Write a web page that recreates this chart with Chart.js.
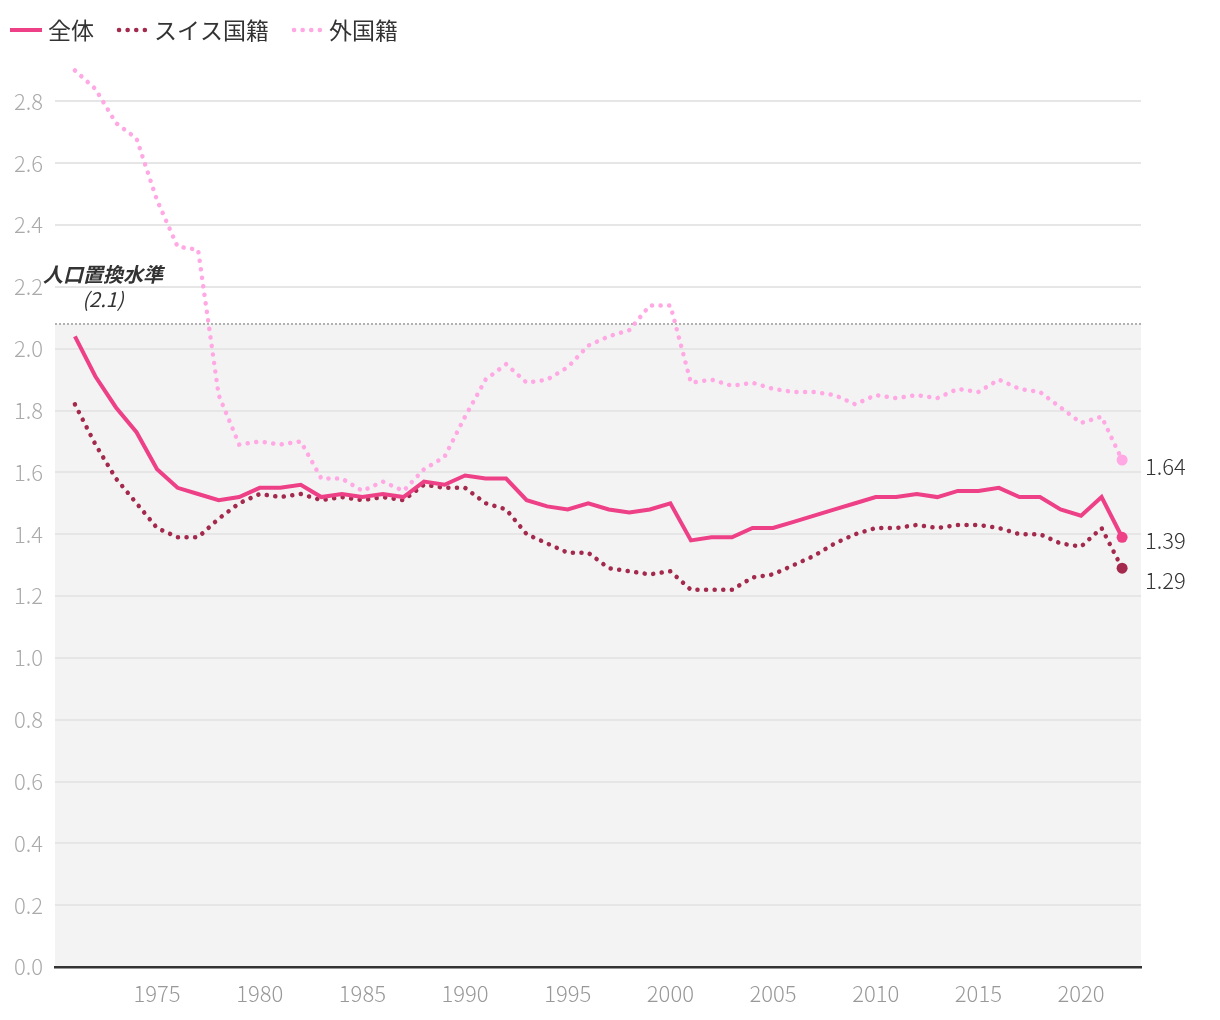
<!DOCTYPE html>
<html lang="ja">
<head>
<meta charset="utf-8">
<title>合計特殊出生率</title>
<script src="https://cdn.jsdelivr.net/npm/chart.js@4.4.1/dist/chart.umd.min.js"></script>
<style>
html, body { margin: 0; padding: 0; background: #fff; }
canvas { display: block; }
</style>
</head>
<body>
<canvas id="myChart" width="1220" height="1020"></canvas>
<script>
// years on the x axis
const years = [1971, 1972, 1973, 1974, 1975, 1976, 1977, 1978, 1979, 1980,
    1981, 1982, 1983, 1984, 1985, 1986, 1987, 1988, 1989, 1990,
    1991, 1992, 1993, 1994, 1995, 1996, 1997, 1998, 1999, 2000,
    2001, 2002, 2003, 2004, 2005, 2006, 2007, 2008, 2009, 2010,
    2011, 2012, 2013, 2014, 2015, 2016, 2017, 2018, 2019, 2020,
    2021, 2022];

// 全体
const totalRate = [2.04, 1.91, 1.81, 1.73, 1.61, 1.55, 1.53, 1.51, 1.52, 1.55,
    1.55, 1.56, 1.52, 1.53, 1.52, 1.53, 1.52, 1.57, 1.56, 1.59,
    1.58, 1.58, 1.51, 1.49, 1.48, 1.50, 1.48, 1.47, 1.48, 1.50,
    1.38, 1.39, 1.39, 1.42, 1.42, 1.44, 1.46, 1.48, 1.50, 1.52,
    1.52, 1.53, 1.52, 1.54, 1.54, 1.55, 1.52, 1.52, 1.48, 1.46,
    1.52, 1.39];

// スイス国籍
const swissRate = [1.82, 1.69, 1.58, 1.50, 1.42, 1.39, 1.39, 1.45, 1.50, 1.53,
    1.52, 1.53, 1.51, 1.52, 1.51, 1.52, 1.51, 1.56, 1.55, 1.55,
    1.50, 1.48, 1.40, 1.37, 1.34, 1.34, 1.29, 1.28, 1.27, 1.28,
    1.22, 1.22, 1.22, 1.26, 1.27, 1.30, 1.33, 1.37, 1.40, 1.42,
    1.42, 1.43, 1.42, 1.43, 1.43, 1.42, 1.40, 1.40, 1.37, 1.36,
    1.42, 1.29];

// 外国籍
const foreignRate = [2.90, 2.84, 2.73, 2.68, 2.48, 2.33, 2.32, 1.85, 1.69, 1.70,
    1.69, 1.70, 1.58, 1.58, 1.54, 1.57, 1.54, 1.61, 1.65, 1.78,
    1.90, 1.95, 1.89, 1.90, 1.94, 2.01, 2.04, 2.06, 2.14, 2.14,
    1.89, 1.90, 1.88, 1.89, 1.87, 1.86, 1.86, 1.85, 1.82, 1.85,
    1.84, 1.85, 1.84, 1.87, 1.86, 1.90, 1.87, 1.86, 1.81, 1.76,
    1.78, 1.64];

const seriesNames = ['全体', 'スイス国籍', '外国籍'];
const endLabels = ['1.39', '1.29', '1.64'];

const replacementLevel = 2.08;
const replacementText = ['人口置換水準', '(2.1)'];

const FONT = '"Noto Sans CJK JP", "Noto Sans", sans-serif';
const lastIdx = years.length - 1;

function points(values) {
    return years.map((yr, i) => ({ x: yr, y: values[i] }));
}

function endDot(ctx) {
    return ctx.dataIndex === lastIdx ? 5.5 : 0;
}

// grey area below replacement level
const shadePlugin = {
    id: 'shade',
    beforeDraw(chart) {
        const { ctx, chartArea, scales } = chart;
        const yTop = scales.y.getPixelForValue(replacementLevel);
        ctx.save();
        ctx.fillStyle = '#f3f3f3';
        ctx.fillRect(chartArea.left, yTop, chartArea.right - chartArea.left, chartArea.bottom - yTop);
        ctx.restore();
    }
};

// dotted replacement line + its label
const replacementPlugin = {
    id: 'replacement',
    beforeDatasetsDraw(chart) {
        const { ctx, chartArea, scales } = chart;
        const y = scales.y.getPixelForValue(replacementLevel);
        ctx.save();
        ctx.strokeStyle = '#999';
        ctx.lineWidth = 1.5;
        ctx.setLineDash([2, 2]);
        ctx.beginPath();
        ctx.moveTo(chartArea.left, y);
        ctx.lineTo(chartArea.right, y);
        ctx.stroke();
        ctx.setLineDash([]);

        ctx.fillStyle = '#333';
        ctx.textAlign = 'center';
        ctx.textBaseline = 'middle';
        const cx = chartArea.left + 48;
        ctx.font = 'italic bold 20px ' + FONT;
        ctx.fillText(replacementText[0], cx, y - 50);
        ctx.font = 'italic 20px ' + FONT;
        ctx.fillText(replacementText[1], cx, y - 25);
        ctx.restore();
    }
};

// value labels at the end of each line
const endLabelPlugin = {
    id: 'endLabels',
    afterDatasetsDraw(chart) {
        const { ctx, chartArea, scales } = chart;
        const offsets = [3, 12, 7];
        ctx.save();
        ctx.font = '300 22px ' + FONT;
        ctx.fillStyle = '#333';
        ctx.textAlign = 'left';
        ctx.textBaseline = 'middle';
        chart.data.datasets.forEach((ds, i) => {
            const v = ds.data[lastIdx].y;
            const y = scales.y.getPixelForValue(v) + offsets[i];
            ctx.fillText(endLabels[i], chartArea.right + 4, y);
        });
        ctx.restore();
    }
};

// legend drawn by hand so spacing matches
const legendPlugin = {
    id: 'myLegend',
    afterDraw(chart) {
        const ctx = chart.ctx;
        let x = 10;
        const y = 30;
        ctx.save();
        ctx.font = '23px ' + FONT;
        ctx.textBaseline = 'middle';
        chart.data.datasets.forEach((ds) => {
            ctx.strokeStyle = ds.borderColor;
            ctx.lineWidth = ds.borderWidth;
            ctx.lineCap = ds.borderCapStyle || 'butt';
            ctx.setLineDash(ds.borderDash || []);
            ctx.beginPath();
            ctx.moveTo(x + (ds.borderDash ? 3 : 0), y);
            ctx.lineTo(x + 32, y);
            ctx.stroke();
            ctx.setLineDash([]);
            x += 38;
            ctx.fillStyle = '#333';
            ctx.fillText(ds.label, x, y);
            x += ctx.measureText(ds.label).width + 22;
        });
        ctx.restore();
    }
};

const data = {
    datasets: [{
        label: seriesNames[0],
        data: points(totalRate),
        borderColor: 'rgb(238, 64, 134)',
        backgroundColor: 'rgb(238, 64, 134)',
        borderWidth: 4,
        borderJoinStyle: 'miter',
        pointRadius: endDot,
        pointHoverRadius: endDot,
        pointBorderWidth: 0,
        order: 1
    }, {
        label: seriesNames[1],
        data: points(swissRate),
        borderColor: 'rgb(163, 41, 77)',
        backgroundColor: 'rgb(163, 41, 77)',
        borderWidth: 4.5,
        borderDash: [0.1, 8.5],
        borderCapStyle: 'round',
        pointRadius: endDot,
        pointHoverRadius: endDot,
        pointBorderWidth: 0,
        order: 2
    }, {
        label: seriesNames[2],
        data: points(foreignRate),
        borderColor: 'rgb(255, 168, 228)',
        backgroundColor: 'rgb(255, 168, 228)',
        borderWidth: 4.5,
        borderDash: [0.1, 8.5],
        borderCapStyle: 'round',
        pointRadius: endDot,
        pointHoverRadius: endDot,
        pointBorderWidth: 0,
        order: 3
    }]
};

const config = {
    type: 'line',
    data: data,
    options: {
        responsive: false,
        animation: false,
        devicePixelRatio: 1,
        layout: { padding: { top: 55, right: 79, left: 0, bottom: 0 } },
        plugins: {
            legend: { display: false },
            tooltip: { enabled: false }
        },
        scales: {
            x: {
                type: 'linear',
                min: 1970.03,
                max: 2022.92,
                grid: { display: false, drawTicks: false },
                border: { display: true, color: '#333', width: 2.5 },
                ticks: {
                    stepSize: 5,
                    includeBounds: false,
                    autoSkip: false,
                    maxRotation: 0,
                    padding: 13,
                    color: '#999',
                    font: { family: FONT, size: 22, weight: '300' },
                    callback: (v) => (v % 5 === 0 ? String(v) : '')
                },
                afterFit: (s) => { s.height = 53; }
            },
            y: {
                min: 0,
                max: 2.95,
                grid: { color: '#e6e6e6', lineWidth: 2, drawTicks: false },
                border: { display: false },
                ticks: {
                    stepSize: 0.2,
                    includeBounds: false,
                    padding: 12,
                    color: '#aaa',
                    font: { family: FONT, size: 22, weight: '300' },
                    callback: (v) => v.toFixed(1)
                },
                afterFit: (s) => { s.width = 55; }
            }
        }
    },
    plugins: [shadePlugin, replacementPlugin, endLabelPlugin, legendPlugin]
};

const chart = new Chart(document.getElementById('myChart'), config);
</script>
</body>
</html>
